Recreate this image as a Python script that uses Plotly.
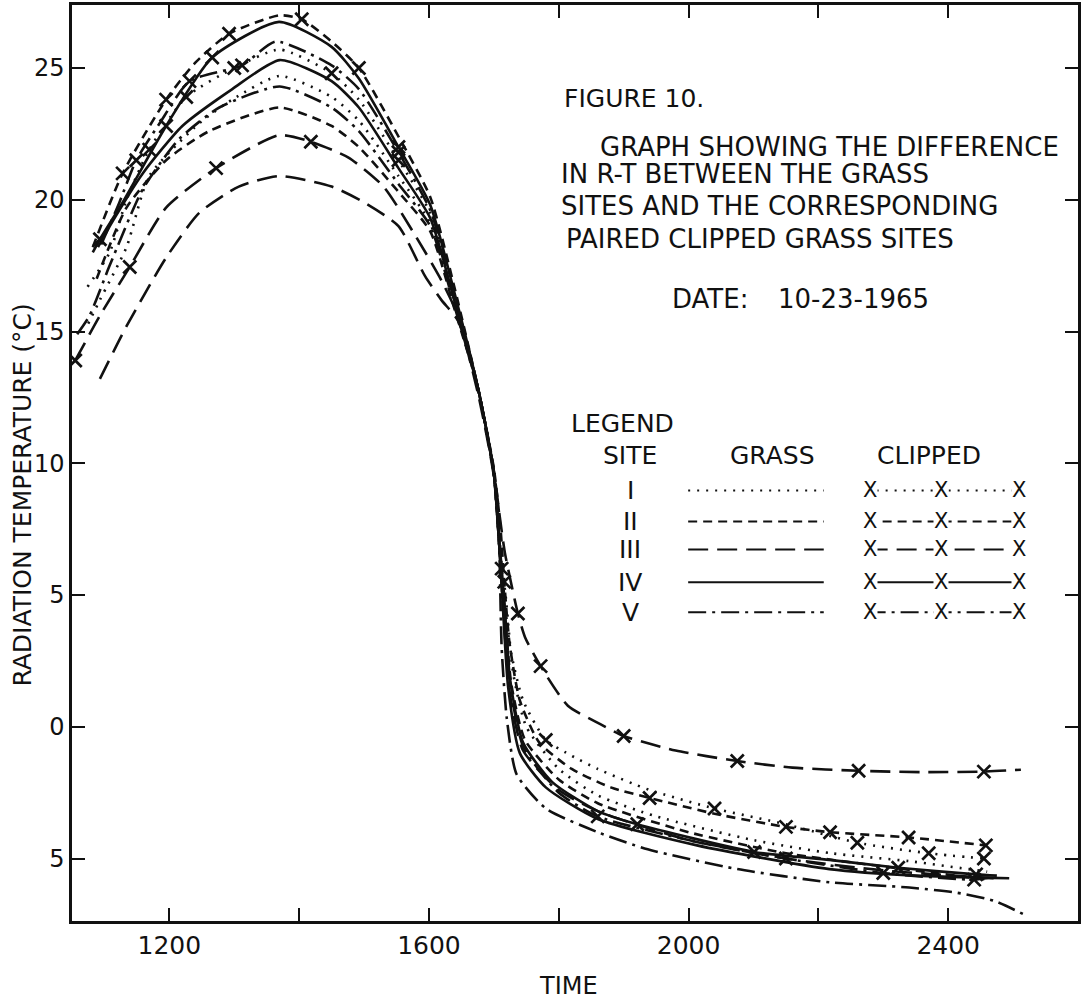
import plotly.graph_objects as go

# ---- Radiation temperature (deg C) vs. time, 10-23-1965 ----
# Grass sites
TIME_GRASS_I = [1075, 1093, 1134, 1169, 1246, 1297, 1370, 1450, 1492, 1553, 1602, 1640, 1676, 1700, 1708, 1718, 1730, 1750, 1800, 1860, 1950, 2100, 2220, 2340, 2460]
RT_GRASS_I = [15.3, 16.2, 18.2, 20.9, 22.9, 23.8, 24.7, 23.9, 23.0, 20.9, 19.1, 16.0, 12.8, 9.6, 7.0, 5.0, 2.0, 0.0, -1.6, -2.6, -3.4, -4.3, -4.8, -5.1, -5.5]

TIME_GRASS_II = [1088, 1134, 1195, 1261, 1370, 1450, 1492, 1553, 1602, 1640, 1676, 1700, 1708, 1716, 1727, 1748, 1800, 1860, 2000, 2150, 2300, 2460]
RT_GRASS_II = [17.0, 19.7, 21.5, 22.6, 23.5, 22.8, 22.0, 20.3, 18.8, 15.8, 12.8, 9.6, 7.0, 4.6, 1.6, -0.5, -2.0, -2.9, -4.0, -4.8, -5.3, -5.8]

TIME_GRASS_III = [1093, 1134, 1195, 1246, 1307, 1369, 1450, 1500, 1553, 1594, 1619, 1645, 1676, 1700, 1708, 1715, 1725, 1745, 1800, 1860, 2000, 2150, 2300, 2470]
RT_GRASS_III = [13.2, 15.2, 17.8, 19.5, 20.5, 20.9, 20.5, 19.9, 19.0, 17.1, 16.2, 15.4, 12.6, 9.5, 7.0, 4.2, 1.2, -0.9, -2.4, -3.2, -4.3, -5.0, -5.45, -5.75]

TIME_GRASS_IV = [1090, 1113, 1159, 1220, 1297, 1370, 1450, 1492, 1553, 1602, 1640, 1676, 1700, 1708, 1714, 1722, 1740, 1780, 1860, 2013, 2217, 2350, 2494]
RT_GRASS_IV = [18.2, 19.2, 21.0, 22.8, 24.2, 25.3, 24.5, 23.5, 21.2, 19.3, 16.1, 12.8, 9.6, 7.0, 4.5, 1.5, -1.0, -2.3, -3.5, -4.5, -5.4, -5.65, -5.75]

TIME_GRASS_V = [1058, 1077, 1108, 1159, 1215, 1277, 1370, 1450, 1492, 1553, 1602, 1640, 1676, 1700, 1708, 1712, 1720, 1735, 1780, 1860, 1937, 2075, 2217, 2340, 2414, 2470, 2515]
RT_GRASS_V = [14.9, 15.6, 17.5, 20.4, 22.3, 23.5, 24.3, 23.5, 22.6, 20.6, 19.0, 15.9, 12.8, 9.6, 7.0, 3.0, 0.3, -1.8, -3.1, -4.0, -4.65, -5.4, -5.9, -6.1, -6.3, -6.6, -7.1]

# Paired clipped grass sites
TIME_CLIP_I = [1074, 1108, 1134, 1169, 1226, 1300, 1370, 1450, 1492, 1553, 1602, 1640, 1676, 1700, 1708, 1712, 1725, 1745, 1780, 1820, 1860, 1940, 2040, 2150, 2260, 2370, 2455]
RT_CLIP_I = [16.7, 18.0, 20.0, 21.9, 23.9, 25.0, 25.7, 24.8, 23.8, 21.5, 19.5, 16.2, 12.8, 9.6, 7.4, 6.0, 3.0, 1.0, -0.5, -1.1, -1.6, -2.4, -3.1, -3.7, -4.4, -4.8, -5.0]
MARK_CLIP_I = [1169, 1226, 1300, 1450, 1553, 1712, 1780, 2040, 2260, 2370, 2455]

TIME_CLIP_II = [1082, 1128, 1195, 1240, 1292, 1370, 1404, 1450, 1492, 1553, 1602, 1640, 1676, 1700, 1710, 1716, 1724, 1740, 1770, 1820, 1880, 1940, 2040, 2150, 2218, 2339, 2458]
RT_CLIP_II = [18.2, 21.0, 23.8, 25.2, 26.3, 27.0, 26.85, 26.0, 25.0, 22.4, 20.1, 16.6, 12.8, 9.8, 7.6, 5.5, 3.2, 1.0, -0.6, -1.6, -2.3, -2.7, -3.3, -3.8, -4.0, -4.2, -4.5]
MARK_CLIP_II = [1128, 1195, 1292, 1404, 1492, 1716, 1940, 2150, 2218, 2339, 2458]

TIME_CLIP_III = [1055, 1093, 1139, 1195, 1272, 1369, 1418, 1476, 1530, 1580, 1620, 1650, 1676, 1700, 1710, 1717, 1737, 1748, 1772, 1814, 1864, 1900, 1980, 2075, 2160, 2262, 2360, 2455, 2512]
RT_CLIP_III = [13.9, 15.6, 17.45, 19.7, 21.2, 22.45, 22.2, 21.6, 20.5, 18.6, 16.9, 15.3, 12.8, 9.7, 7.8, 6.6, 4.3, 3.4, 2.3, 0.8, 0.1, -0.35, -0.9, -1.3, -1.55, -1.67, -1.72, -1.7, -1.63]
MARK_CLIP_III = [1055, 1139, 1272, 1418, 1737, 1772, 1900, 2075, 2262, 2455]

TIME_CLIP_IV = [1082, 1093, 1128, 1195, 1266, 1369, 1450, 1492, 1553, 1602, 1640, 1676, 1700, 1708, 1716, 1725, 1745, 1790, 1860, 1921, 2101, 2217, 2323, 2443, 2475]
RT_CLIP_IV = [18.0, 18.5, 19.9, 22.8, 25.4, 26.75, 25.8, 24.6, 22.0, 19.8, 16.4, 12.8, 9.7, 7.2, 4.8, 1.8, -0.6, -2.1, -3.2, -3.7, -4.75, -5.05, -5.35, -5.6, -5.65]
MARK_CLIP_IV = [1093, 1195, 1266, 1553, 1921, 2101, 2323, 2443]

TIME_CLIP_V = [1095, 1123, 1149, 1185, 1231, 1312, 1364, 1450, 1492, 1553, 1602, 1640, 1676, 1700, 1708, 1716, 1726, 1746, 1800, 1860, 2000, 2150, 2300, 2440, 2470]
RT_CLIP_V = [18.3, 19.9, 21.5, 22.9, 24.5, 25.1, 26.0, 25.1, 24.2, 21.8, 19.6, 16.3, 12.8, 9.6, 7.0, 4.4, 1.4, -0.8, -2.5, -3.4, -4.3, -5.0, -5.55, -5.8, -5.7]
MARK_CLIP_V = [1149, 1231, 1312, 1553, 1860, 2150, 2300, 2440]

X_TICKS = [1200, 1400, 1600, 1800, 2000, 2200, 2400]
X_TICK_TEXT = ["1200", "", "1600", "", "2000", "", "2400"]
Y_TICKS = [-5, 0, 5, 10, 15, 20, 25]
Y_TICK_TEXT = ["5", "0", "5", "10", "15", "20", "25"]

SITES = ["I", "II", "III", "IV", "V"]

# line style per site (grass and clipped share the same dash)
DASH = {
    "I": "2px,7px",
    "II": "9px,6px",
    "III": "20px,9px",
    "IV": "solid",
    "V": "18px,6px,3px,6px",
}

GRASS = {
    "I": (TIME_GRASS_I, RT_GRASS_I),
    "II": (TIME_GRASS_II, RT_GRASS_II),
    "III": (TIME_GRASS_III, RT_GRASS_III),
    "IV": (TIME_GRASS_IV, RT_GRASS_IV),
    "V": (TIME_GRASS_V, RT_GRASS_V),
}
CLIPPED = {
    "I": (TIME_CLIP_I, RT_CLIP_I, MARK_CLIP_I),
    "II": (TIME_CLIP_II, RT_CLIP_II, MARK_CLIP_II),
    "III": (TIME_CLIP_III, RT_CLIP_III, MARK_CLIP_III),
    "IV": (TIME_CLIP_IV, RT_CLIP_IV, MARK_CLIP_IV),
    "V": (TIME_CLIP_V, RT_CLIP_V, MARK_CLIP_V),
}

INK = "#111111"
FONT = "DejaVu Sans"
LW = 2.6
TXT = 25
CAPTION = 26

fig = go.Figure()

for s in SITES:
    t, v = GRASS[s]
    fig.add_trace(go.Scatter(
        x=t, y=v, mode="lines", name=f"Grass {s}",
        line=dict(color=INK, width=LW, dash=DASH[s], shape="spline", smoothing=0.6),
        showlegend=False, hoverinfo="skip"))

for s in SITES:
    t, v, marks = CLIPPED[s]
    fig.add_trace(go.Scatter(
        x=t, y=v, mode="lines", name=f"Clipped {s}",
        line=dict(color=INK, width=LW, dash=DASH[s], shape="spline", smoothing=0.6),
        showlegend=False, hoverinfo="skip"))
    mx = [ti for ti in t if ti in marks]
    my = [vi for ti, vi in zip(t, v) if ti in marks]
    fig.add_trace(go.Scatter(
        x=mx, y=my, mode="markers", name=f"Clipped {s} obs",
        marker=dict(symbol="x-thin", size=13, line=dict(color=INK, width=2.7)),
        showlegend=False, hoverinfo="skip"))

# plot-area geometry in page pixels
L, R, T, B = 72, 1081, 4, 921
W, H = 1083, 1002


def px(xp):
    return (xp - L) / (R - L)


def py(yp):
    return (B - yp) / (B - T)


def label(text, xp, yp, size=TXT, anchor="left"):
    fig.add_annotation(text=text, x=px(xp), y=py(yp), xref="paper", yref="paper",
                       xanchor=anchor, yanchor="middle", showarrow=False,
                       font=dict(family=FONT, size=size, color=INK))


# figure caption block
label("FIGURE 10.", 563, 98, size=CAPTION - 1)
label("GRAPH SHOWING THE DIFFERENCE", 600, 146, size=CAPTION)
label("IN R-T BETWEEN THE GRASS", 560, 173, size=CAPTION)
label("SITES AND THE CORRESPONDING", 560, 205, size=CAPTION)
label("PAIRED CLIPPED GRASS SITES", 565, 238, size=CAPTION)
label("DATE:", 672, 298, size=CAPTION)
label("10-23-1965", 778, 298, size=CAPTION)

# hand-drawn legend
label("LEGEND", 570, 423)
label("SITE", 603, 455)
label("GRASS", 730, 455)
label("CLIPPED", 877, 455)
ROW_Y = [490, 521, 549, 582, 612]
for s, yrow in zip(SITES, ROW_Y):
    label(s, 632, yrow, anchor="center")
    fig.add_shape(type="line", xref="paper", yref="paper",
                  x0=px(690), x1=px(826), y0=py(yrow), y1=py(yrow),
                  line=dict(color=INK, width=2, dash=DASH[s]))
    fig.add_shape(type="line", xref="paper", yref="paper",
                  x0=px(870), x1=px(1022), y0=py(yrow), y1=py(yrow),
                  line=dict(color=INK, width=2, dash=DASH[s]))
    for xm in (872, 944, 1022):
        fig.add_annotation(text="X", x=px(xm), y=py(yrow), xref="paper", yref="paper",
                           xanchor="center", yanchor="middle", showarrow=False,
                           bgcolor="white", borderpad=0,
                           font=dict(family=FONT, size=21, color=INK))

# axis titles
fig.add_annotation(text="RADIATION TEMPERATURE (°C)", x=px(22), y=py(495),
                   xref="paper", yref="paper", textangle=-90, showarrow=False,
                   xanchor="center", yanchor="middle",
                   font=dict(family=FONT, size=25, color=INK))
fig.add_annotation(text="TIME", x=px(570), y=py(986), xref="paper", yref="paper",
                   showarrow=False, xanchor="center", yanchor="middle",
                   font=dict(family=FONT, size=24, color=INK))

axis_common = dict(showline=True, linecolor=INK, linewidth=2.5, mirror="ticks",
                   ticks="inside", ticklen=13, tickwidth=2, tickcolor=INK,
                   showgrid=False, zeroline=False)

fig.update_xaxes(range=[1050, 2600], tickvals=X_TICKS, ticktext=X_TICK_TEXT,
                 tickfont=dict(family=FONT, size=25, color=INK), **axis_common)
fig.update_yaxes(range=[-7.37, 27.39], tickvals=Y_TICKS, ticktext=Y_TICK_TEXT,
                 tickfont=dict(family=FONT, size=24, color=INK), **axis_common)

fig.update_layout(
    width=W, height=H,
    margin=dict(l=L, r=W - R, t=T, b=H - B),
    plot_bgcolor="white", paper_bgcolor="white",
    showlegend=False,
    font=dict(family=FONT, color=INK),
)

fig.write_html("out.html")
